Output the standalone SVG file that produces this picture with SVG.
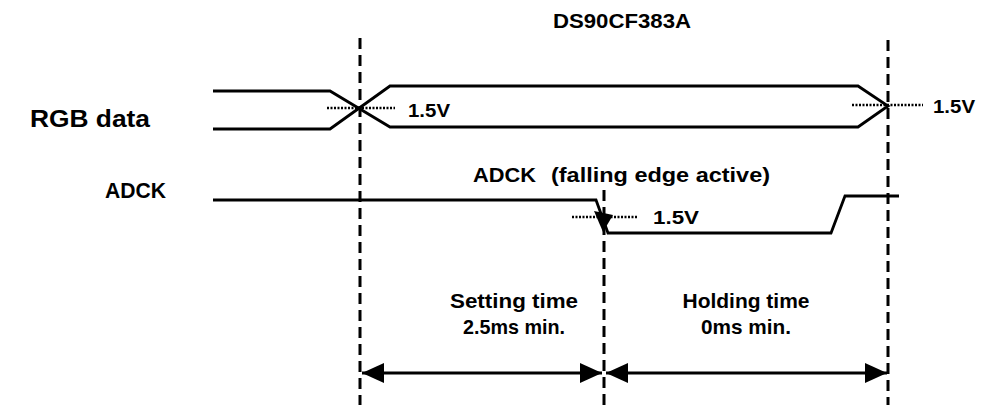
<svg xmlns="http://www.w3.org/2000/svg" width="983" height="405" viewBox="0 0 983 405">
<style>
  .t { font-family: "Liberation Sans", Arial, sans-serif; font-weight: bold; fill: #000; }
  .sig { fill: none; stroke: #000; stroke-width: 2.8; stroke-linejoin: miter; }
  .dash { fill: none; stroke: #000; stroke-width: 3; stroke-dasharray: 11 6; }
  .dot { fill: none; stroke: #000; stroke-width: 2.4; stroke-dasharray: 2 1.5; }
  .dim { fill: none; stroke: #000; stroke-width: 2.8; }
</style>
<defs>
  <marker id="ah" markerUnits="userSpaceOnUse" markerWidth="22" markerHeight="20" refX="22" refY="10" orient="auto-start-reverse">
    <path d="M0,0 L22,10 L0,20 Z" fill="#000"/>
  </marker>
</defs>
<rect width="983" height="405" fill="#fff"/>

<g id="title"><text class="t" x="553" y="28" font-size="20" textLength="138" lengthAdjust="spacingAndGlyphs">DS90CF383A</text></g>

<g id="guides">
  <line class="dash" x1="360" y1="38" x2="360" y2="405"/>
  <line class="dash" x1="604" y1="190" x2="604" y2="405"/>
  <line class="dash" x1="888" y1="40" x2="888" y2="405"/>
</g>

<g id="rgb">
  <text class="t" x="30" y="127" font-size="23" textLength="120" lengthAdjust="spacingAndGlyphs">RGB data</text>
  <path class="sig" d="M213,91 H330 L390,127 H858 L888,106 L858,86 H390 L330,129 H213"/>
  <line class="dot" x1="327" y1="108" x2="395" y2="108"/>
  <text class="t" x="408" y="117" font-size="19" textLength="42" lengthAdjust="spacingAndGlyphs">1.5V</text>
  <line class="dot" x1="852" y1="105" x2="923" y2="105"/>
  <text class="t" x="933" y="113" font-size="19" textLength="42" lengthAdjust="spacingAndGlyphs">1.5V</text>
</g>

<g id="adck">
  <text class="t" x="105" y="198" font-size="22" textLength="61" lengthAdjust="spacingAndGlyphs">ADCK</text>
  <text class="t" x="473" y="182" font-size="21" textLength="63" lengthAdjust="spacingAndGlyphs">ADCK</text>
  <text class="t" x="551" y="182" font-size="21" textLength="219" lengthAdjust="spacingAndGlyphs">(falling edge active)</text>
  <path class="sig" d="M213,200 H596 L608,233 H831 L845,196 H899"/>
  <line class="dot" x1="572" y1="217" x2="638" y2="217"/>
  <path d="M594,211 L613,215 L603,232 Z" fill="#000"/>
  <text class="t" x="653" y="224" font-size="19" textLength="46" lengthAdjust="spacingAndGlyphs">1.5V</text>
</g>

<g id="setting">
  <text class="t" x="514" y="308" font-size="21" text-anchor="middle" textLength="128" lengthAdjust="spacingAndGlyphs">Setting time</text>
  <text class="t" x="514" y="334" font-size="21" text-anchor="middle" textLength="102" lengthAdjust="spacingAndGlyphs">2.5ms min.</text>
</g>
<g id="holding">
  <text class="t" x="746" y="308" font-size="21" text-anchor="middle" textLength="127" lengthAdjust="spacingAndGlyphs">Holding time</text>
  <text class="t" x="746" y="334" font-size="21" text-anchor="middle" textLength="90" lengthAdjust="spacingAndGlyphs">0ms min.</text>
</g>

<g id="connectors">
  <line class="dim" x1="362" y1="373" x2="602" y2="373" marker-start="url(#ah)" marker-end="url(#ah)"/>
  <line class="dim" x1="606" y1="373" x2="887" y2="373" marker-start="url(#ah)" marker-end="url(#ah)"/>
</g>
</svg>
